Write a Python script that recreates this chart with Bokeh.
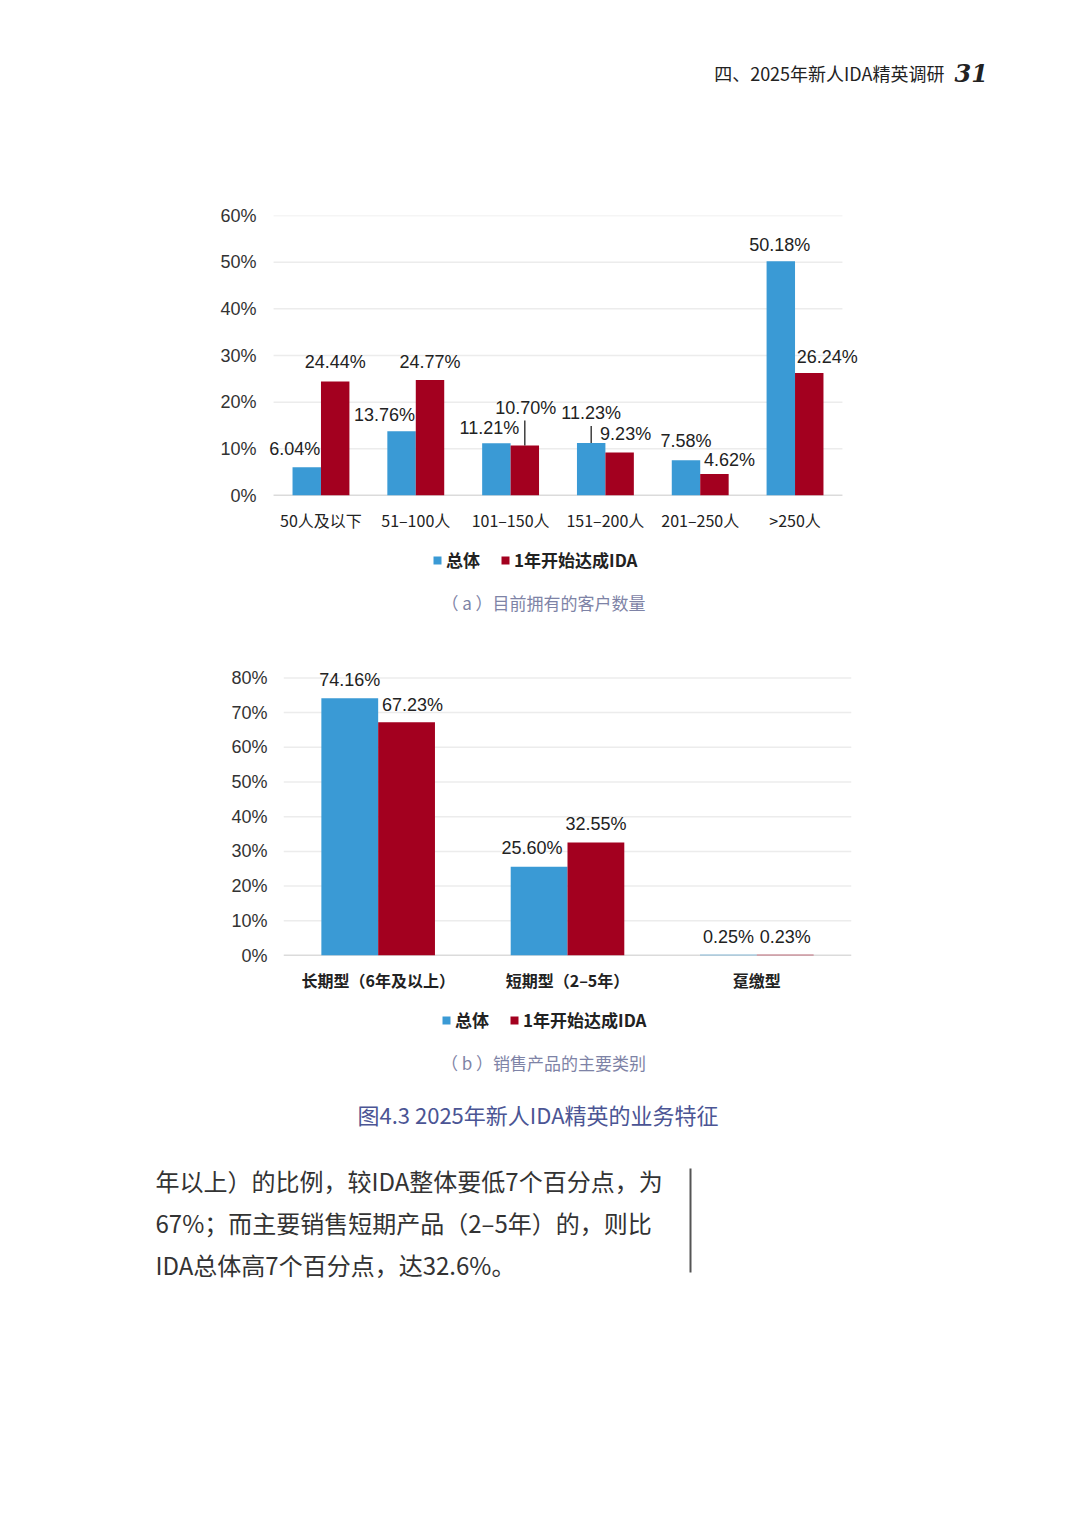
from bokeh.plotting import figure
from bokeh.models import (ColumnDataSource, FactorRange, Range1d, Legend, LegendItem,
                          FixedTicker, PrintfTickFormatter, Label)
from bokeh.transform import dodge
from bokeh.core.properties import value
from bokeh.embed import file_html
from bokeh.resources import INLINE

# ---------------- data ----------------
series_names = ["总体", "1年开始达成IDA"]

cats_a = ["50人及以下", "51–100人", "101–150人", "151–200人", "201–250人", ">250人"]
total_a = [6.04, 13.76, 11.21, 11.23, 7.58, 50.18]
ida_a = [24.44, 24.77, 10.70, 9.23, 4.62, 26.24]
yticks_a = [0, 10, 20, 30, 40, 50, 60]

cats_b = ["长期型（6年及以上）", "短期型（2–5年）", "趸缴型"]
total_b = [74.16, 25.60, 0.25]
ida_b = [67.23, 32.55, 0.23]
yticks_b = [0, 10, 20, 30, 40, 50, 60, 70, 80]

header_text = "四、2025年新人IDA精英调研"
page_no = "31"
subtitle_a = "（ a ）目前拥有的客户数量"
subtitle_b = "（ b ）销售产品的主要类别"
caption = "图4.3  2025年新人IDA精英的业务特征"
body_lines = [
    "年以上）的比例，较IDA整体要低7个百分点，为",
    "67%；而主要销售短期产品（2–5年）的，则比",
    "IDA总体高7个百分点，达32.6%。",
]

# ---------------- styles / label placement (pixels) ----------------
BLUE = "#3a9ad5"
RED = "#a3001f"
CJK = "Noto Sans CJK SC"
LAT = "Liberation Sans"

a_blue_dx = [-12, -17, -7, 0, 0, -1]
a_blue_dy = [-18, -16, -15, -30, -19, -16]
a_red_dx = [0, 0, 1, 6, 15, 18]
a_red_dy = [-19, -18, -38, -18, -14, -16]
# leader lines: (series index, category index, length in px)
a_leaders = [(1, 2, 25), (0, 3, 17)]

b_blue_dx = [0, -7, 0]
b_blue_dy = [-18, -19, -18]
b_red_dx = [6, 0, 0]
b_red_dy = [-17, -19, -18]

W = 1064


def text_fig(h):
    f = figure(width=W, height=h, x_range=Range1d(0, W), y_range=Range1d(h, 0),
               output_backend="svg", toolbar_location=None, min_border=0,
               x_axis_location=None, y_axis_location=None)
    f.grid.visible = False
    f.outline_line_color = None
    f.background_fill_color = "white"
    f.border_fill_color = "white"
    return f


def bar_chart(cats, tot, ida, yticks, y_end, h, left, frame_w, pad, top, bottom, ystand,
              bdx, bdy, rdx, rdy, leaders, bold_cats, frame_h):
    p = figure(width=W, height=h,
               x_range=FactorRange(*cats, range_padding=pad, range_padding_units="absolute"),
               y_range=Range1d(0, y_end),
               output_backend="svg", toolbar_location=None,
               min_border_left=left, min_border_right=W - left - frame_w,
               min_border_top=top, min_border_bottom=bottom)
    p.outline_line_color = None
    p.background_fill_color = "white"
    p.border_fill_color = "white"
    p.grid.visible = False
    p.yaxis.ticker = FixedTicker(ticks=yticks)
    p.yaxis.formatter = PrintfTickFormatter(format="%d%%")
    p.yaxis.axis_line_color = None
    p.yaxis.major_tick_line_color = None
    p.yaxis.minor_tick_line_color = None
    p.yaxis.major_tick_out = 0
    p.yaxis.major_label_standoff = ystand
    p.yaxis.major_label_text_font = LAT
    p.yaxis.major_label_text_font_size = "18px"
    p.yaxis.major_label_text_color = "#333333"
    p.xaxis.axis_line_color = None
    p.xaxis.major_tick_line_color = None
    p.xaxis.minor_tick_line_color = None
    p.xaxis.major_tick_out = 0
    p.xaxis.major_label_standoff = 12
    p.xaxis.major_label_text_font = CJK
    p.xaxis.major_label_text_font_size = "16px"
    p.xaxis.major_label_text_color = "#222222"
    if bold_cats:
        p.xaxis.major_label_text_font_style = "bold"

    # horizontal grid lines spanning exactly the categories
    n = len(cats)
    gsrc = ColumnDataSource(dict(y=yticks, x0=[0] * len(yticks), x1=[n] * len(yticks),
                                 c=["#b8b8b8" if t == 0 else "#ececec" for t in yticks]))
    p.segment(x0="x0", y0="y", x1="x1", y1="y", source=gsrc, line_color="c", line_width=1.5)

    src = ColumnDataSource(dict(
        cat=cats, tot=tot, ida=ida,
        tl=[f"{v:.2f}%" for v in tot], rl=[f"{v:.2f}%" for v in ida],
        bdx=bdx, bdy=bdy, rdx=rdx, rdy=rdy))
    xb = dodge("cat", -0.15, range=p.x_range)
    xr = dodge("cat", 0.15, range=p.x_range)
    p.vbar(x=xb, top="tot", width=0.3, source=src, fill_color=BLUE, line_color=None)
    p.vbar(x=xr, top="ida", width=0.3, source=src, fill_color=RED, line_color=None)

    common = dict(source=src, text_align="center", text_baseline="middle",
                  text_font=value(LAT), text_font_size="18px", text_color="#222222")
    p.text(x=xb, y="tot", text="tl", x_offset="bdx", y_offset="bdy", **common)
    p.text(x=xr, y="ida", text="rl", x_offset="rdx", y_offset="rdy", **common)

    px_per_unit = frame_h / y_end
    for s, ci, ln in leaders:
        v = (tot, ida)[s][ci]
        lsrc = ColumnDataSource(dict(cat=[cats[ci]], y0=[v], y1=[v + ln / px_per_unit]))
        xx = dodge("cat", -0.15 if s == 0 else 0.15, range=p.x_range)
        p.segment(x0=xx, y0="y0", x1=xx, y1="y1", source=lsrc,
                  line_color="#222222", line_width=1.3)
    return p


def legend_fig(h, glyph_x, subtitle, sub_x):
    f = text_fig(h)
    # zero-height placeholder bars that only carry the legend swatch styles
    r1 = f.vbar(x=[0], top=[0], width=1, fill_color=BLUE, line_color=None)
    r2 = f.vbar(x=[0], top=[0], width=1, fill_color=RED, line_color=None)
    legend = Legend(items=[LegendItem(label=series_names[0], renderers=[r1]),
                           LegendItem(label=series_names[1], renderers=[r2])],
                    orientation="horizontal", location=(glyph_x, h - 21 - 11))
    legend.label_text_font = CJK
    legend.label_text_font_size = "17px"
    legend.label_text_font_style = "bold"
    legend.label_text_color = "#222222"
    legend.glyph_width = 10
    legend.glyph_height = 10
    legend.label_standoff = 4
    legend.spacing = 20
    legend.padding = 0
    legend.margin = 0
    legend.border_line_color = None
    legend.background_fill_alpha = 0
    f.add_layout(legend, "center")
    f.add_layout(Label(x=sub_x, y=62, text=subtitle, text_align="center", text_baseline="middle",
                       text_font=CJK, text_font_size="17px", text_color="#7e83a6"))
    return f


# header (page y 0..148)
hdr = text_fig(148)
hdr.add_layout(Label(x=944, y=72, text=header_text, text_align="right", text_baseline="middle",
                     text_font=CJK, text_font_size="18px", text_color="#222222"))
hdr.add_layout(Label(x=954, y=72, text=page_no, text_align="left", text_baseline="middle",
                     text_font="DejaVu Serif", text_font_size="24px", text_font_style="bold italic",
                     text_color="#222222"))

# chart a (page y 148..540): categories span x 273..842, frame y 215..495
pa = bar_chart(cats_a, total_a, ida_a, yticks_a, 60, 392, 256, 603, 0.18, 67, 45, 0,
               a_blue_dx, a_blue_dy, a_red_dx, a_red_dy, a_leaders, False, 280)
la = legend_fig(98, 432, subtitle_a, 543)          # page y 540..638

# chart b (page y 638..1000): frame x 283..851, 80% at y 677, 0% at 955 (range to 83 for label room)
pb = bar_chart(cats_b, total_b, ida_b, yticks_b, 83, 362, 283, 568, 0.0, 29, 45, 16,
               b_blue_dx, b_blue_dy, b_red_dx, b_red_dy, [], True, 288)
lb = legend_fig(85, 441, subtitle_b, 543)          # page y 1000..1085

# caption + body (page y 1085..1528)
bot = text_fig(443)
bot.add_layout(Label(x=540, y=28, text=caption, text_align="center", text_baseline="middle",
                     text_font=CJK, text_font_size="22px", text_color="#4b5594"))
for i, line in enumerate(body_lines):
    bot.add_layout(Label(x=155, y=95 + 42 * i, text=line, text_align="left", text_baseline="middle",
                         text_font=CJK, text_font_size="24px", text_color="#333333"))
bot.segment(x0=[690], y0=[83], x1=[690], y1=[187], line_color="#555555", line_width=2)

open("out.html", "w").write(file_html([hdr, pa, la, pb, lb, bot], INLINE))
